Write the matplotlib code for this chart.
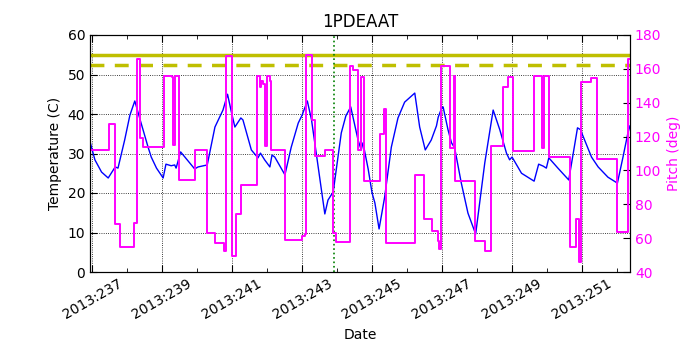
import matplotlib
matplotlib.use("Agg")
import matplotlib.pyplot as plt
from matplotlib.ticker import FuncFormatter, MultipleLocator

# ---- data ----
temp_day = [236.94, 237.08, 237.27, 237.46, 237.66, 237.74, 237.93, 238.08, 238.22, 238.40,
            238.60, 238.69, 238.84, 239.03, 239.11, 239.26, 239.36, 239.40, 239.53, 239.93,
            240.03, 240.29, 240.51, 240.74, 240.87, 240.98, 241.08, 241.25, 241.31, 241.55,
            241.74, 241.81, 241.93, 242.08, 242.14, 242.22, 242.51, 242.69, 242.89, 243.00,
            243.15, 243.27, 243.46, 243.65, 243.74, 243.89, 244.12, 244.25, 244.39, 244.60,
            244.69, 244.74, 244.89, 245.00, 245.08, 245.20, 245.36, 245.55, 245.74, 245.93,
            246.22, 246.36, 246.52, 246.69, 246.84, 246.89, 246.98, 247.03, 247.17, 247.27,
            247.36, 247.55, 247.74, 247.96, 248.22, 248.46, 248.65, 248.84, 248.93, 249.00,
            249.27, 249.63, 249.76, 249.89, 249.98, 250.05, 250.31, 250.62, 250.74, 250.87,
            250.96, 251.00, 251.27, 251.46, 251.74, 252.01, 252.17, 252.31, 252.37]
temp_val = [33.0, 28.4, 25.3, 23.8, 26.6, 26.3, 33.4, 39.7, 43.3, 37.7,
            31.6, 29.1, 26.3, 23.8, 27.3, 26.9, 27.1, 26.3, 30.4, 26.1,
            26.6, 27.1, 36.7, 41.0, 45.0, 40.5, 36.7, 39.0, 38.5, 30.9,
            28.9, 30.1, 28.4, 26.6, 29.6, 29.1, 24.6, 31.6, 37.7, 39.7,
            43.3, 38.5, 26.6, 14.7, 18.2, 20.3, 35.2, 39.5, 41.8, 33.4,
            30.9, 32.7, 26.0, 20.0, 17.5, 10.9, 19.0, 31.6, 39.0, 43.0,
            45.3, 36.7, 30.9, 33.4, 37.0, 39.2, 41.3, 41.8, 36.0, 32.7,
            31.4, 22.5, 14.9, 9.6, 27.6, 41.0, 36.0, 30.1, 28.4, 29.1,
            25.0, 23.0, 27.3, 26.8, 26.3, 28.9, 26.3, 23.3, 29.6, 36.5,
            36.0, 35.0, 29.1, 26.6, 24.0, 22.5, 29.1, 35.2, 37.0]

pitch_day = [236.94, 237.48, 237.65, 237.81, 238.19, 238.27, 238.38, 238.46, 239.06, 239.27,
             239.31, 239.36, 239.48, 239.95, 240.29, 240.52, 240.77, 240.84, 241.00, 241.12,
             241.25, 241.72, 241.79, 241.84, 241.89, 241.95, 242.01, 242.07, 242.12, 242.51,
             243.00, 243.08, 243.12, 243.27, 243.36, 243.65, 243.89, 243.98, 244.36, 244.46,
             244.60, 244.68, 244.77, 245.22, 245.33, 245.41, 246.22, 246.49, 246.72, 246.87,
             246.92, 246.96, 247.24, 247.33, 247.38, 247.95, 248.22, 248.41, 248.74, 248.89,
             249.03, 249.63, 249.86, 249.91, 250.05, 250.65, 250.84, 250.91, 250.98, 251.25,
             251.44, 252.01, 252.30, 252.37]
pitch_val = [112.0, 127.4, 68.4, 55.0, 69.0, 165.6, 119.0, 113.7, 155.8, 155.0,
             115.0, 156.0, 94.3, 112.0, 62.9, 57.3, 52.4, 167.6, 49.5, 74.3,
             91.4, 155.8, 149.5, 153.0, 151.0, 114.4, 155.8, 153.0, 112.0, 59.0,
             61.0, 62.5, 168.0, 129.8, 108.5, 112.0, 63.2, 57.5, 161.7, 159.3,
             112.0, 155.4, 94.0, 121.4, 136.0, 57.0, 97.3, 71.3, 64.4, 58.5,
             53.5, 161.7, 113.0, 155.8, 94.0, 58.5, 52.4, 114.4, 149.5, 155.0,
             111.7, 155.8, 113.0, 155.8, 108.1, 55.0, 71.1, 46.0, 152.0, 154.5,
             106.6, 63.8, 165.6, 165.6]

planning_limit = 55.0
caution_limit = 52.5
now_day = 243.91
year = 2013
x_ticks = [237, 239, 241, 243, 245, 247, 249, 251]

# ---- figure ----
plt.rcParams['font.family'] = ['DejaVu Sans']
fig = plt.figure(figsize=(7, 3.5), dpi=100)
ax = fig.add_axes([90/700, 1-272/350, 540/700, 237/350])
ax2 = ax.twinx()

ax.plot(temp_day, temp_val, color='#0000ff', lw=1.0, zorder=3)
ax.axhline(planning_limit, color='#bfbf00', lw=2.5, zorder=2)
ax.axhline(caution_limit, color='#bfbf00', lw=2.5, ls='--', dashes=(4, 3), zorder=2)
ax.axvline(now_day, color='#008000', lw=1.2, ls=':', zorder=2)

ax2.plot(pitch_day, pitch_val, color='#ff00ff', lw=1.4, drawstyle='steps-post')

ax.set_xlim(236.94, 252.37)
ax.set_ylim(0, 60)
ax2.set_ylim(40, 180)

ax.set_xticks(x_ticks)
ax.xaxis.set_minor_locator(MultipleLocator(1))
ax.xaxis.set_major_formatter(FuncFormatter(lambda v, p: f"{year}:{int(round(v)):03d}"))
ax.set_yticks(range(0, 61, 10))
ax2.set_yticks(range(40, 181, 20))

for lab in ax.get_xticklabels():
    lab.set_rotation(30)
    lab.set_ha('center')

ax.tick_params(direction='in', which='both', top=True, labelsize=10)
ax.tick_params(which='major', length=5)
ax.tick_params(which='minor', length=3)
ax.tick_params(axis='y', right=False)
ax2.tick_params(direction='in', labelsize=10, length=5, color='black', labelcolor='#ff00ff')

ax.grid(True, which='major', color='black', ls=':', lw=0.6)

ax.set_xlabel('Date', fontsize=10)
ax.set_ylabel('Temperature (C)', fontsize=10)
ax2.set_ylabel('Pitch (deg)', fontsize=10, color='#ff00ff')
ax.set_title('1PDEAAT', fontsize=12)

fig.savefig('out.png', dpi=100)
